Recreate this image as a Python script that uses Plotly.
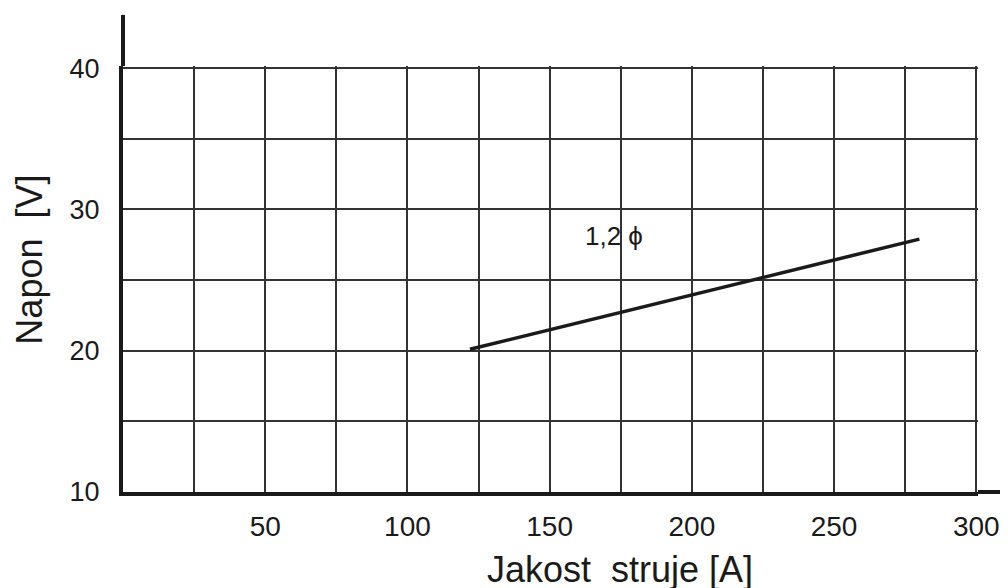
import plotly.graph_objects as go

# Data
current_A = [122, 280]          # Jakost struje [A]
voltage_V = [20.1, 27.9]        # Napon [V]
series_label = "1,2 ϕ"
label_pos = (172.5, 28.1)

x_ticks = [50, 100, 150, 200, 250, 300]
y_ticks = [10, 20, 30, 40]
x_title = "Jakost  struje [A]"
y_title = "Napon  [V]"

FONT = "Liberation Sans, Arial, sans-serif"
INK = "#1a1a1a"
GRID = "#333333"

fig = go.Figure()
fig.add_trace(go.Scatter(
    x=current_A, y=voltage_V, mode="lines",
    line=dict(color=INK, width=3.5), showlegend=False, hoverinfo="skip"))

fig.add_annotation(x=label_pos[0], y=label_pos[1], text=series_label,
                   showarrow=False, font=dict(family=FONT, size=26, color=INK))

# axis titles, placed off-centre as in the original drawing
fig.add_annotation(xref="paper", yref="paper", x=0.581, y=-0.183, text=x_title,
                   showarrow=False, xanchor="center", yanchor="middle",
                   font=dict(family=FONT, size=36, color=INK))
fig.add_annotation(xref="paper", yref="paper", x=-0.109, y=0.545, text=y_title,
                   showarrow=False, xanchor="center", yanchor="middle", textangle=-90,
                   font=dict(family=FONT, size=36, color=INK))

# page body adds an 8px offset, margins compensate for it
fig.update_layout(
    width=1008, height=588,
    paper_bgcolor="white", plot_bgcolor="white",
    margin=dict(l=115, r=38, t=58, b=104),
    font=dict(family=FONT, color=INK),
)

fig.update_xaxes(
    range=[0, 300.6], tickvals=x_ticks, ticktext=[str(v) for v in x_ticks],
    showgrid=True, gridcolor=GRID, gridwidth=2,
    minor=dict(dtick=25, tick0=0, showgrid=True, gridcolor=GRID, gridwidth=2),
    showline=True, linecolor=INK, linewidth=4, zeroline=False,
    ticks="", ticklabelstandoff=6, tickfont=dict(size=28, color=INK),
    automargin=False,
)
fig.update_yaxes(
    range=[10, 40.15], tickvals=y_ticks, ticktext=[str(v) for v in y_ticks],
    showgrid=True, gridcolor=GRID, gridwidth=2,
    minor=dict(dtick=5, tick0=10, showgrid=True, gridcolor=GRID, gridwidth=2),
    showline=True, linecolor=INK, linewidth=4, zeroline=False,
    ticks="", ticklabelstandoff=14, tickfont=dict(size=27, color=INK),
    automargin=False,
)

# axis-line extensions beyond the grid (as in the original drawing)
fig.add_shape(type="line", xref="paper", yref="paper", x0=0, x1=0, y0=1, y1=1.12,
              line=dict(color=INK, width=4))
fig.add_shape(type="line", xref="paper", yref="paper", x0=1, x1=1.03, y0=0, y1=0,
              line=dict(color=INK, width=4))

fig.write_html("out.html")
